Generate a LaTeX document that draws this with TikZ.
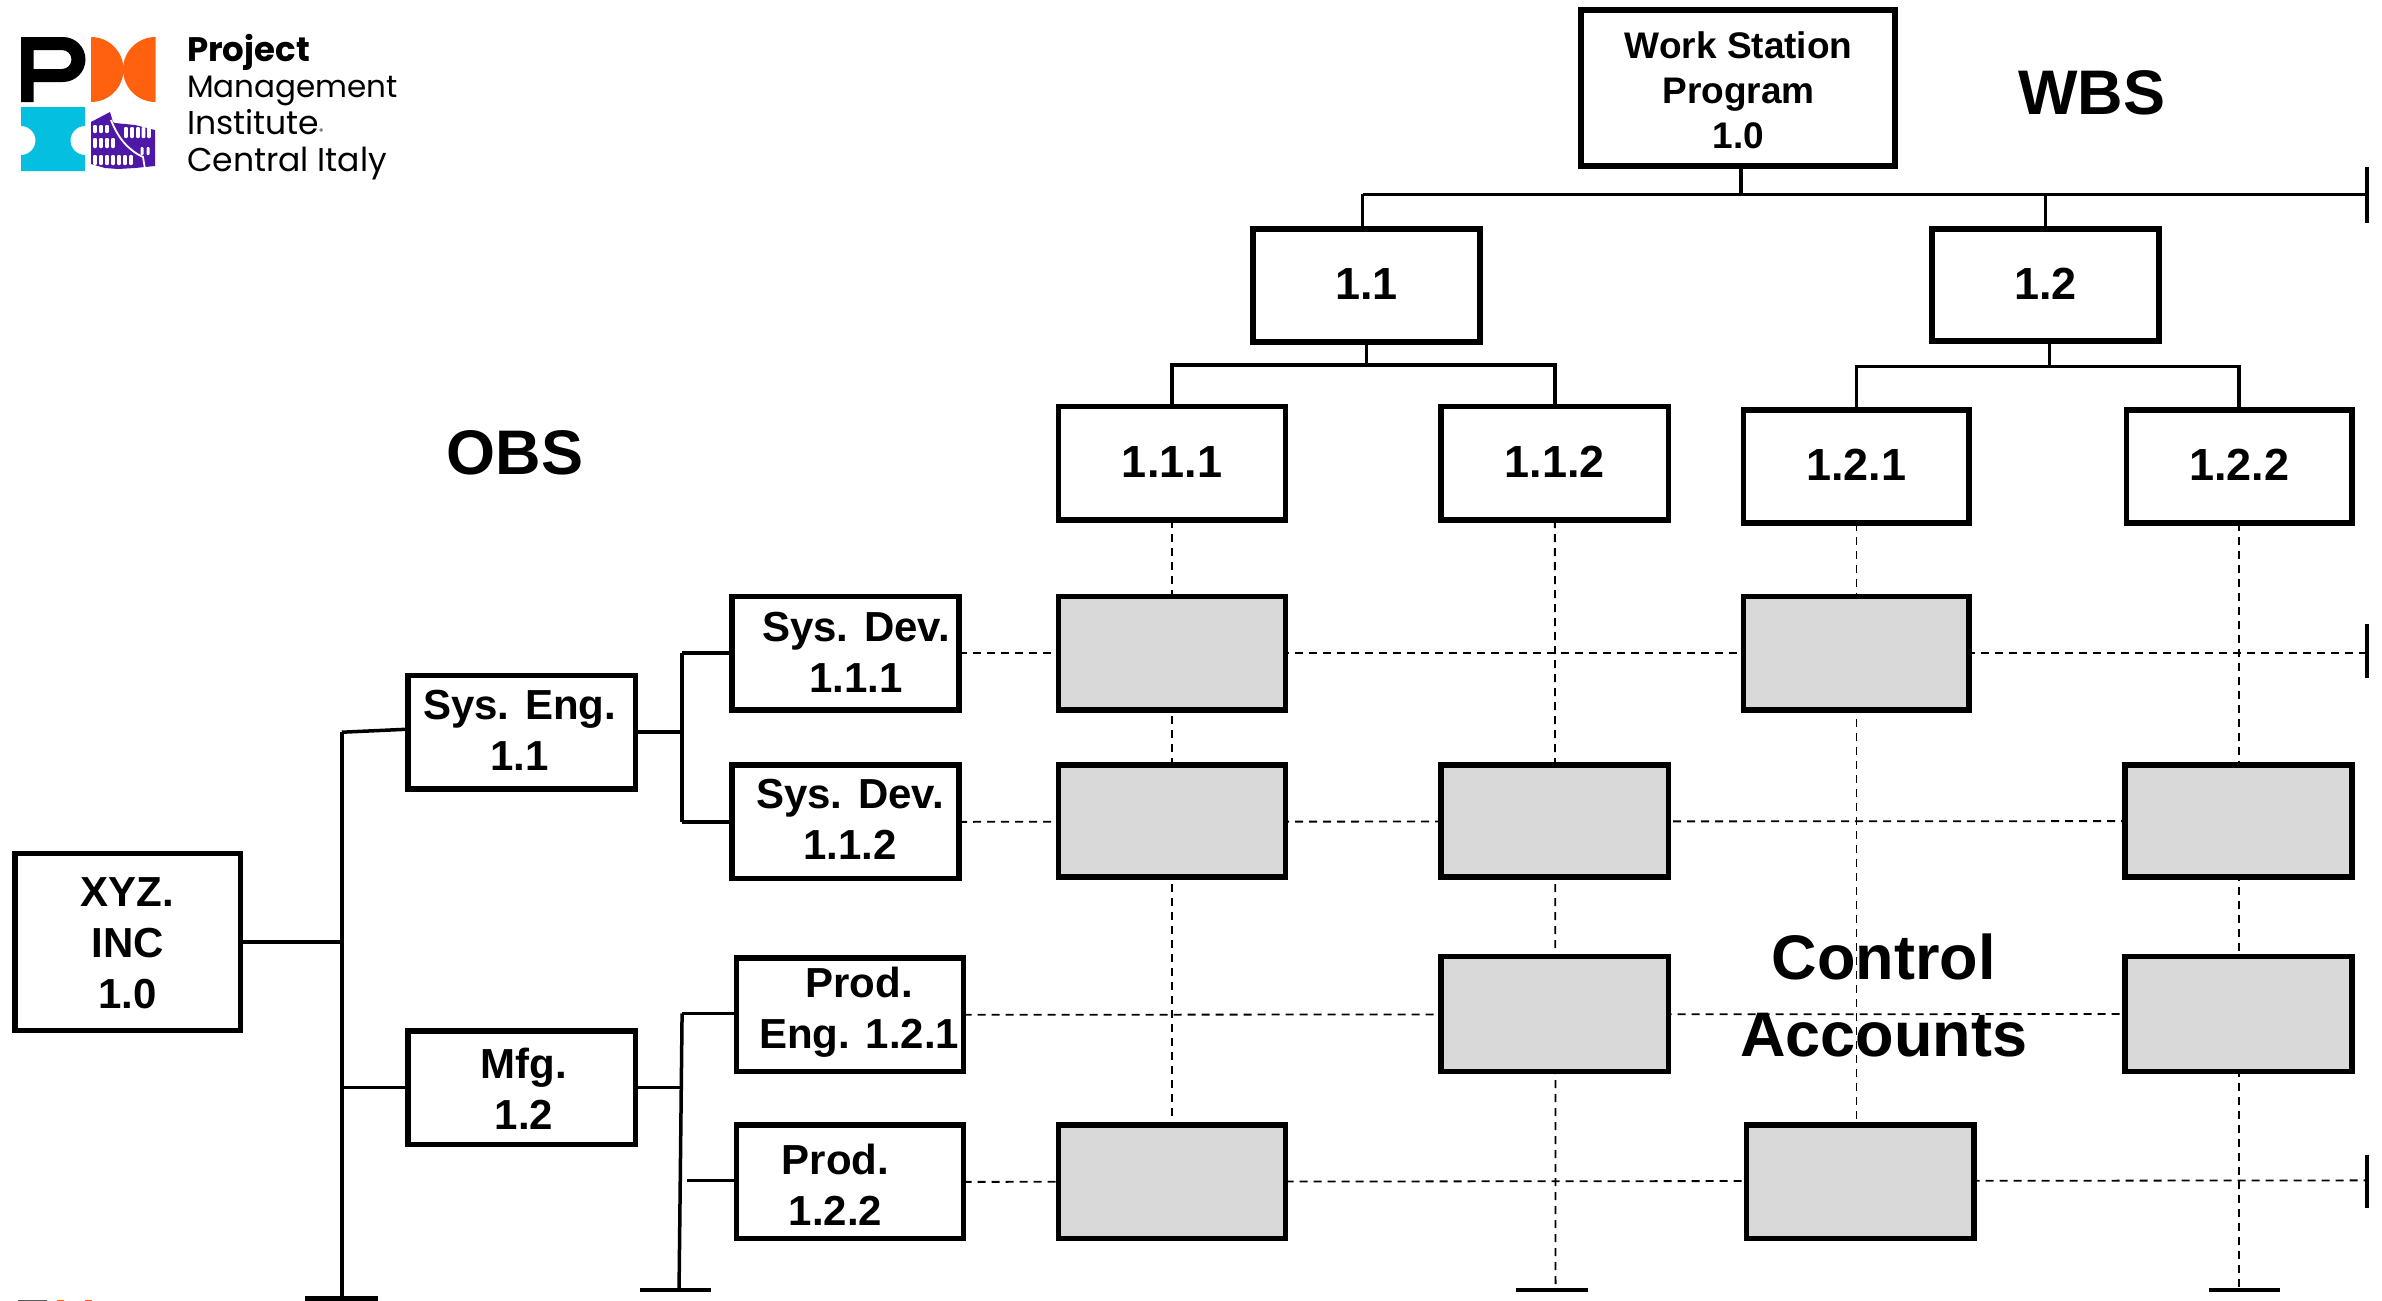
\documentclass[tikz,border=0pt]{standalone}
\usepackage{fontspec}
\setmainfont{Liberation Sans}
\newfontfamily\logofont{Poppins}
\usetikzlibrary{backgrounds}
\definecolor{cellgray}{RGB}{217,217,217}
\definecolor{pmiorange}{RGB}{255,97,15}
\definecolor{pmicyan}{RGB}{5,191,224}
\definecolor{pmipurple}{RGB}{79,23,168}
\definecolor{sliver}{RGB}{90,90,90}
\tikzset{
  x=1.5191pt,y=-1.5191pt,
  bxbase/.style={draw=black,line width=5.6pt,inner sep=0pt,outer sep=0pt,align=center,font=\bfseries\fontsize{42}{51}\selectfont},
  whitebox/.style={bxbase,fill=white},
  graybox/.style={bxbase,fill=cellgray},
  lab/.style={inner sep=0pt,align=center,font=\bfseries\fontsize{42}{51}\selectfont},
  wsfont/.style={inner sep=0pt,align=center,font=\bfseries\fontsize{37}{45}\selectfont},
  numfont/.style={font=\bfseries\fontsize{45}{51}\selectfont},
  bigtitle/.style={inner sep=0pt,align=center,font=\bfseries\fontsize{63}{77}\selectfont},
  solidline/.style={draw=black,line width=3.5pt},
  capline/.style={draw=black,line width=3.5pt},
  gridline/.style={draw=black,line width=1.8pt,dash pattern=on 8pt off 6pt},
  logotext/.style={inner sep=0pt,anchor=base west},
}
\newcommand{\bx}[7][]{% style, name, l,t,r,b, text
  \node[#2,#1,minimum width={(#5-#3-1.4)*1.5191pt},minimum height={(#6-#4-1.4)*1.5191pt}] (#7) at ({(#3+#5)/2},{(#4+#6)/2}) {};}
\newcommand{\upnum}[1]{\raisebox{3pt}{#1}}
\begin{document}
\begin{tikzpicture}
\useasboundingbox (0,0) rectangle (1568,856.4);
% WBS boxes
\bx{whitebox}{1040}{6}{1248}{110}{ws}
\node[wsfont] at (1144.5,59.5) {Work Station\\Program\\1.0};
\node[whitebox,numfont,minimum width={149.6*1.5191pt},minimum height={74.6*1.5191pt}] (w11) at (899.5,188) {\upnum{1.1}};
\node[whitebox,numfont,minimum width={149.6*1.5191pt},minimum height={73.6*1.5191pt}] (w12) at (1346.5,187.5) {\upnum{1.2}};
\node[whitebox,numfont,minimum width={149.6*1.5191pt},minimum height={74.6*1.5191pt}] (w111) at (771.5,305) {\upnum{1.1.1}};
\node[whitebox,numfont,minimum width={149.6*1.5191pt},minimum height={74.6*1.5191pt}] (w112) at (1023.5,305) {\upnum{1.1.2}};
\node[whitebox,numfont,minimum width={148.6*1.5191pt},minimum height={74.6*1.5191pt}] (w121) at (1222,307) {\upnum{1.2.1}};
\node[whitebox,numfont,minimum width={148.6*1.5191pt},minimum height={74.6*1.5191pt}] (w122) at (1474,307) {\upnum{1.2.2}};
% OBS boxes
\bx{whitebox}{481}{392}{632}{468}{o111}
\bx{whitebox}{481}{503}{632}{579}{o112}
\bx{whitebox}{484}{630}{635}{706}{o121}
\bx{whitebox}{484}{740}{635}{816}{o122}
\bx{whitebox}{268}{444}{419}{520}{o11}
\bx{whitebox}{268}{678}{419}{754}{o12}
\bx{whitebox}{9}{561}{159}{679}{xyz}
\node[lab] at (563.5,429.5) {Sys. Dev.\\1.1.1};
\node[lab] at (559.5,539.5) {Sys. Dev.\\1.1.2};
\node[lab] at (565.5,666.5) {Prod.\\Eng. 1.2.1};
\node[lab] at (550,780) {Prod.\\1.2.2};
\node[lab] at (342,481) {Sys. Eng.\\1.1};
\node[lab] at (345,716.5) {Mfg.\\1.2};
\node[lab] at (84,621) {XYZ.\\INC\\1.0};
% Gray control-account cells
\bx{graybox}{696}{392}{847}{468}{c11}
\bx{graybox}{1147}{392}{1297}{468}{c13}
\bx{graybox}{696}{503}{847}{578}{c21}
\bx{graybox}{948}{503}{1099}{578}{c22}
\bx{graybox}{1398}{503}{1549}{578}{c24}
\bx{graybox}{948}{629}{1099}{706}{c32}
\bx{graybox}{1398}{629}{1549}{706}{c34}
\bx{graybox}{696}{740}{847}{816}{c41}
\bx{graybox}{1149}{740}{1300}{816}{c43}
% Titles
\node[bigtitle] (wbs) at (1377,61) {WBS};
\node[bigtitle] (obs) at (339,298) {OBS};
\node[bigtitle] (ca) at (1240,655) {Control\\Accounts};
% Free ends
\coordinate (topjL) at (897,128);
\coordinate (topjM) at (1146,128);
\coordinate (topjR) at (1558,128);
\coordinate (topc1) at (1558,110);
\coordinate (topc2) at (1558,147);
\coordinate (r1e) at (1558,430);
\coordinate (r1c1) at (1558,411);
\coordinate (r1c2) at (1558,446);
\coordinate (r4e) at (1558,777);
\coordinate (r4c1) at (1558,760);
\coordinate (r4c2) at (1558,795);
\coordinate (v2e) at (1024,849);
\coordinate (v2c1) at (998,849);
\coordinate (v2c2) at (1045,849);
\coordinate (v4e) at (1474,849);
\coordinate (v4c1) at (1454,849);
\coordinate (v4c2) at (1501,849);
\coordinate (t1) at (225,482);
\coordinate (t2) at (225,855);
\coordinate (t2a) at (201,855);
\coordinate (t2b) at (249,855);
\coordinate (t3) at (449,430);
\coordinate (t4) at (449,541);
\coordinate (t5) at (449,667);
\coordinate (t6) at (447,849);
\coordinate (t6a) at (421,849);
\coordinate (t6b) at (468,849);
\coordinate (t7) at (452,777);
\begin{scope}[on background layer]
  % grid
  \draw[gridline] (w111.south) -- (w111.south |- c41.north);
  \draw[gridline] (w112.south) -- (v2e);
  \draw[gridline] (w121.south) -- (w121.south |- c43.north);
  \draw[gridline] (w122.south) -- (v4e);
  \draw[gridline] (o111.east) -- (r1e);
  \draw[gridline] (o112.east) -- (c24.west);
  \draw[gridline] (o121.east) -- (c34.west);
  \draw[gridline] (o122.east) -- (r4e);
  % WBS tree
  \draw[solidline] (topjL) -- (topjR);
  \draw[solidline] (topjM) -- (topjM |- ws.south);
  \draw[solidline] (topjL) -- (topjL |- w11.north);
  \draw[solidline] (w12.north) -- (w12.north |- topjL);
  \draw[solidline] (w11.south) -- ++(0,15) coordinate (a1);
  \draw[solidline] (w111.north) |- (a1) -| (w112.north);
  \draw[solidline] (w12.south) ++(2.5,0) -- ++(0,17) coordinate (a2);
  \draw[solidline] (w121.north) |- (a2) -| (w122.north);
  % OBS tree
  \draw[solidline] (t1) -- (t2);
  \draw[solidline] (t1) -- (o11.west |- 0,480);
  \draw[solidline] (xyz.east) -- (xyz.east -| t1);
  \draw[solidline] (o12.west) -- (o12.west -| t1);
  \draw[solidline] (o11.east) -- (t3 |- 0,482);
  \draw[solidline] (t3) -- (t4);
  \draw[solidline] (t3) -- (t3 -| o111.west);
  \draw[solidline] (t4) -- (t4 -| o112.west);
  \draw[solidline] (o12.east) -- (t5 |- 0,716);
  \draw[solidline] (t5) -- (t6);
  \draw[solidline] (t5) -- (t5 -| o121.west);
  \draw[solidline] (t7) -- (t7 -| o122.west);
\end{scope}
% End caps
\draw[capline] (topc1) -- (topc2);
\draw[capline] (r1c1) -- (r1c2);
\draw[capline] (r4c1) -- (r4c2);
\draw[capline] (v2c1) -- (v2c2);
\draw[capline] (v4c1) -- (v4c2);
\draw[capline,line width=5pt] (t2a) -- (t2b);
\draw[capline] (t6a) -- (t6b);
% Logo, in full-size pixels
\begin{scope}[x=1pt,y=-1pt]
  \fill[black,even odd rule] (21,37) -- (63,37) arc[start angle=-90,end angle=90,radius=22.5] -- (33.5,82) -- (33.5,102) -- (21,102) -- cycle
     (33.5,50) -- (62,50) arc[start angle=-90,end angle=90,radius=9.5] -- (33.5,69) -- cycle;
  \fill[pmiorange] (91,37) arc[start angle=-90,end angle=90,radius=32.5] -- cycle;
  \fill[pmiorange] (155.5,37) arc[start angle=-90,end angle=-270,radius=32.5] -- cycle;
  \fill[pmicyan] (21,107) -- (85,107) -- (85,126) arc[start angle=-90,end angle=-270,radius=14.5] -- (85,171) -- (21,171) -- (21,155) arc[start angle=90,end angle=-90,radius=14.5] -- cycle;
  \fill[pmipurple] (91,122) -- (110,112) -- (113,122) -- (115,123) -- (135,125) -- (155,130) -- (155,166) -- (135,168) -- (118,169) -- (105,168) -- (91,164) -- cycle;
  \draw[white,line width=1.8pt] (111,120) .. controls (118,138) and (128,150) .. (143,157) -- (145,169);
  \foreach \wx in {95,101,107}{\fill[white,rounded corners=1pt] (\wx-1.8,125) rectangle (\wx+1.8,133);}
  \foreach \wx in {126,132,138,143.5,149}{\fill[white,rounded corners=1pt] (\wx-1.8,127) rectangle (\wx+1.8,138);}
  \foreach \wx in {95,101,107,113}{\fill[white,rounded corners=1pt] (\wx-1.8,138) rectangle (\wx+1.8,148);}
  \foreach \wx in {142,148}{\fill[white,rounded corners=1pt] (\wx-1.5,147) rectangle (\wx+1.5,155);}
  \foreach \wx in {95,101,107,113,119,125,131}{\fill[white,rounded corners=1pt] (\wx-1.8,155) rectangle (\wx+1.8,165);}
  \node[logotext,font=\logofont\bfseries\fontsize{34}{34}\selectfont] (l1) at (187,61) {Project};
  \node[logotext,font=\logofont\fontsize{31}{31}\selectfont] (l2) at (187,97) {Management};
  \node[logotext,font=\logofont\fontsize{33}{33}\selectfont] (l3) at (187,134) {Institute{\fontsize{8}{8}\selectfont®}};
  \node[logotext,font=\logofont\fontsize{33}{33}\selectfont] (l4) at (187,171) {Central Italy};
  % top edge of a cropped logo at the page bottom
  \fill[sliver] (18,1299.5) rectangle (47,1301);
  \fill[pmiorange] (57,1299.5) rectangle (64,1301);
  \fill[pmiorange] (85,1299.5) rectangle (92,1301);
\end{scope}
\end{tikzpicture}
\end{document}
